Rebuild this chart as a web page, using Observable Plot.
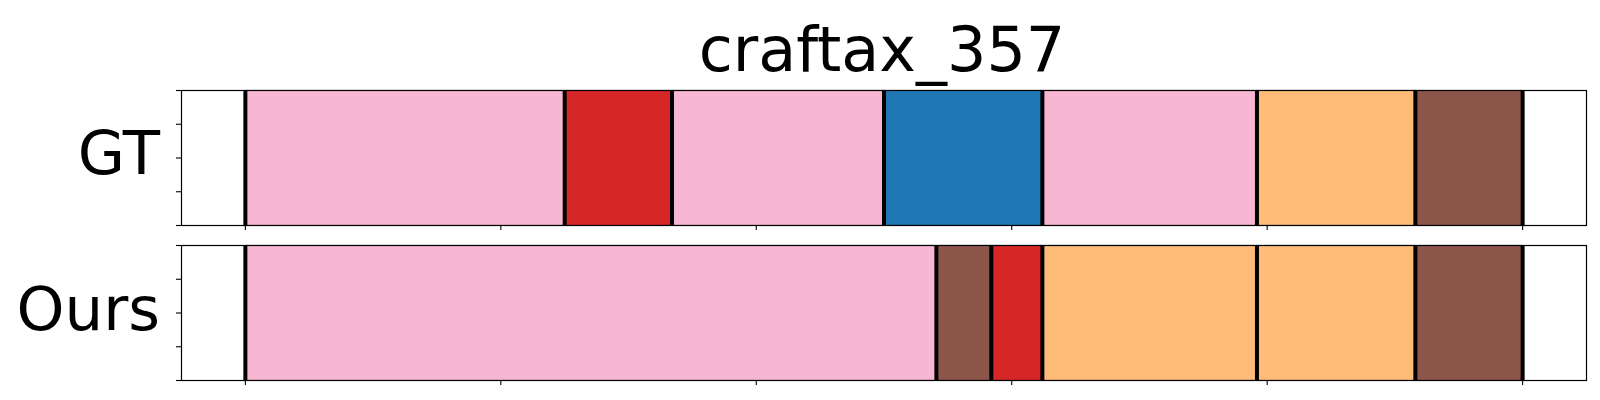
<!DOCTYPE html>
<html>
<head>
<meta charset="utf-8">
<script src="https://cdn.jsdelivr.net/npm/d3@7"></script>
<script src="https://cdn.jsdelivr.net/npm/@observablehq/plot@0.6"></script>
<style>
  html, body { margin: 0; padding: 0; background: #fff; }
  #root { position: relative; width: 1600px; height: 400px; overflow: hidden; font-family: "DejaVu Sans", sans-serif; }
  #root > svg, #root > div { position: absolute; left: 0; }
</style>
</head>
<body>
<div id="root"></div>
<script>
// ---- Data ----
const title = "craftax_357";
const rowLabels = ["GT", "Ours"];

const gtStart = [0, 125, 167, 250, 312, 396, 458];
const gtEnd   = [125, 167, 250, 312, 396, 458, 500];
const gtClass = ["C13", "C6", "C13", "C0", "C13", "C3", "C10"];

const oursStart = [0, 270.5, 292, 312, 396, 458];
const oursEnd   = [270.5, 292, 312, 396, 458, 500];
const oursClass = ["C13", "C10", "C6", "C3", "C3", "C10"];

const classNames  = ["C0", "C3", "C6", "C10", "C13"];
const classColors = ["#1f77b4", "#ffbb78", "#d62728", "#8c564b", "#f7b6d2"];

const xTicks = [0, 100, 200, 300, 400, 500];
const yTicks = [0, 0.25, 0.5, 0.75, 1];
const xDomain = [-25, 525];

// ---- Build ----
const root = document.getElementById("root");

function panel(starts, ends, classes, top) {
  const segs = starts.map((s, i) => ({start: s, end: ends[i], cls: classes[i]}));
  const bounds = Array.from(new Set([...starts, ...ends]));
  const chart = Plot.plot({
    width: 1600,
    height: 160,
    marginLeft: 181,
    marginRight: 14,
    marginTop: 10,
    marginBottom: 15,
    style: {background: "transparent", overflow: "visible"},
    x: {domain: xDomain, ticks: xTicks, tickFormat: () => "", tickSize: 5, label: null},
    y: {domain: [0, 1], ticks: yTicks, tickFormat: () => "", tickSize: 5, label: null},
    color: {type: "ordinal", domain: classNames, range: classColors},
    marks: [
      Plot.rect(segs, {x1: "start", x2: "end", y1: 0, y2: 1, fill: "cls", stroke: "#000", strokeOpacity: 0.12, strokeWidth: 1}),
      Plot.ruleX(bounds, {stroke: "#000", strokeWidth: 4}),
      Plot.frame({stroke: "#000", strokeWidth: 1.2}),
      Plot.axisX({ticks: xTicks, tickFormat: () => "", tickSize: 5, strokeWidth: 1.1, label: null}),
      Plot.axisY({ticks: yTicks, tickFormat: () => "", tickSize: 5, strokeWidth: 1.1, label: null})
    ]
  });
  chart.style.top = top + "px";
  chart.style.position = "absolute";
  root.appendChild(chart);
}

panel(gtStart, gtEnd, gtClass, 80);
panel(oursStart, oursEnd, oursClass, 235);

// ---- Text overlay ----
const ns = "http://www.w3.org/2000/svg";
const overlay = document.createElementNS(ns, "svg");
overlay.setAttribute("width", 1600);
overlay.setAttribute("height", 400);
overlay.style.position = "absolute";
overlay.style.top = "0px";
overlay.style.pointerEvents = "none";
function addText(str, x, y, anchor, size) {
  const t = document.createElementNS(ns, "text");
  t.setAttribute("x", x);
  t.setAttribute("y", y);
  t.setAttribute("text-anchor", anchor);
  t.setAttribute("font-family", "DejaVu Sans");
  t.setAttribute("font-size", size);
  t.setAttribute("fill", "#000");
  t.textContent = str;
  overlay.appendChild(t);
}
addText(title, 882, 71, "middle", 62);
addText(rowLabels[0], 160, 174, "end", 61);
addText(rowLabels[1], 160, 330, "end", 61);
root.appendChild(overlay);
</script>
</body>
</html>
